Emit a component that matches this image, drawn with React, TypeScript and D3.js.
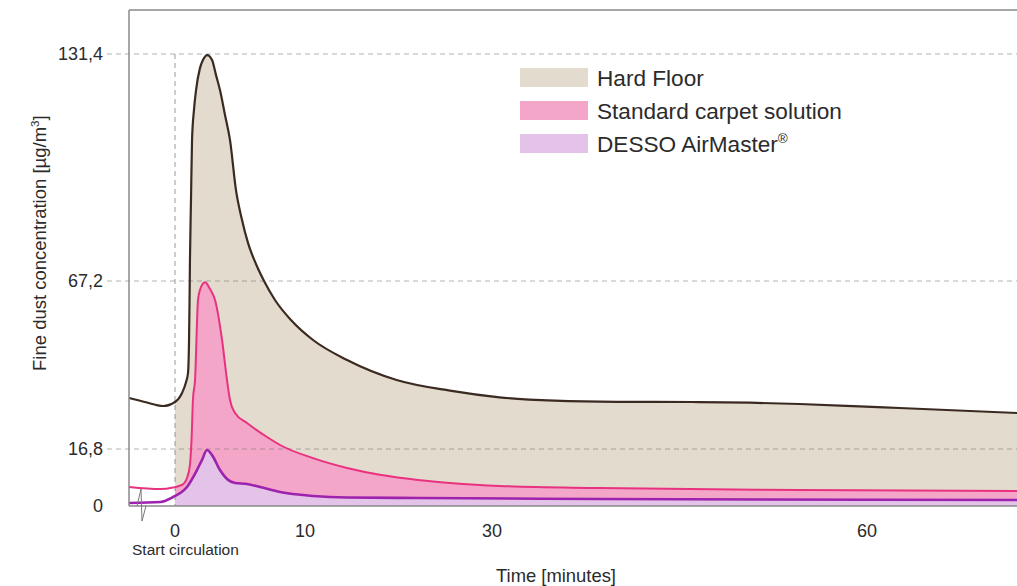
import React from 'react';
import * as d3 from 'd3';

// [minutes, µg/m³]
const hardFloor: [number, number][] = [
  [-3.5, 32.1], [-2.3, 30.9], [-0.9, 29.7], [0, 30.9], [0.54, 33.6], [0.85, 36.9],
  [1.0, 39.6], [1.08, 49.5], [1.12, 61.5], [1.15, 72.9], [1.23, 90.1], [1.31, 107.1],
  [1.46, 115.6], [1.62, 121.2], [1.92, 127.4], [2.15, 129.7], [2.48, 131.1], [2.85, 129.7],
  [3.15, 125.5], [3.46, 121.2], [3.85, 114.1], [4.23, 107.1], [4.69, 92.9], [5.12, 85.0],
  [5.62, 77.9], [6.23, 72.0], [6.85, 67.2], [7.69, 61.5], [8.92, 55.5], [10.86, 49.5],
  [14.5, 43.5], [19.8, 37.5], [25.5, 34.3], [30.6, 32.3], [35, 31.3], [40, 30.95],
  [46, 30.9], [50.6, 30.7], [54.6, 30.3], [59.4, 29.6], [62.6, 29.1], [72, 27.6],
];

const standardCarpet: [number, number][] = [
  [-3.5, 5.6], [-1.1, 5.0], [-0.15, 5.45], [0.54, 6.2], [0.92, 8.25], [1.15, 12.1],
  [1.27, 19.5], [1.38, 31.5], [1.54, 37.5], [1.77, 61.5], [1.92, 64.5], [2.31, 66.8],
  [2.69, 64.8], [3.08, 61.5], [3.62, 49.5], [4.0, 37.5], [4.23, 31.5], [4.62, 27.6],
  [5.54, 24.6], [7.08, 20.4], [8.08, 18.0], [10.86, 14.1], [14.5, 11.2], [18.0, 9.2],
  [22.3, 7.6], [25.5, 6.8], [30.6, 5.9], [38.6, 5.3], [54.6, 4.7], [72, 4.4],
];

const airMaster: [number, number][] = [
  [-3.5, 0.9], [-1.1, 1.2], [-0.15, 2.65], [0.92, 5.6], [1.69, 10.6], [2.08, 13.6],
  [2.46, 16.5], [2.85, 15.0], [3.46, 10.6], [4.08, 7.7], [4.62, 6.8], [5.54, 6.5],
  [6.54, 5.6], [8.08, 4.1], [10.86, 2.95], [14.5, 2.5], [22.3, 2.36], [38.6, 2.06], [72, 1.77],
];

const yTicks = [0, 16.8, 67.2, 131.4];
const xTicks = [0, 10, 30, 60];

const series = [
  { name: 'Hard Floor', data: hardFloor, fill: '#e3dbce', stroke: '#3b2a22', width: 2.2 },
  { name: 'Standard carpet solution', data: standardCarpet, fill: '#f4a6c8', stroke: '#e8327f', width: 2 },
  { name: 'DESSO AirMaster', data: airMaster, fill: '#e3c4e8', stroke: '#9d22ad', width: 2.6 },
];

const W = 1017;
const H = 586;
const FONT = '"Liberation Sans", Arial, sans-serif';

// the source axis is not evenly spaced, so both scales are piecewise
const x = d3.scaleLinear().domain([-3.5, 0, 10, 30, 60, 72]).range([129, 175, 305, 492, 867, 1017]);
const y = d3.scaleLinear().domain(yTicks).range([506, 449, 281, 54]);

const line = d3.line<[number, number]>()
  .x(d => x(d[0]))
  .y(d => y(d[1]))
  .curve(d3.curveMonotoneX);

const area = d3.area<[number, number]>()
  .x(d => x(d[0]))
  .y0(y(0))
  .y1(d => y(d[1]))
  .curve(d3.curveMonotoneX);

const fmt = (v: number) => (v === 0 ? '0' : d3.format('.1f')(v).replace('.', ','));

const App: React.FC = () => {
  const left = x(-3.5);
  const right = x(72);
  const bottom = y(0);
  const top = 10;

  return (
    <svg width={W} height={H} style={{ position: 'absolute', left: 0, top: 0 }} fontFamily={FONT}>
      <defs>
        <clipPath id="after-start">
          <rect x={x(0)} y={0} width={right - x(0)} height={bottom} />
        </clipPath>
      </defs>

      {/* areas start at the circulation start */}
      <g clipPath="url(#after-start)">
        {series.map(s => (
          <path key={s.name} d={area(s.data) || ''} fill={s.fill} />
        ))}
      </g>

      {/* dashed grid */}
      {yTicks.filter(t => t > 0).map(t => (
        <line key={t} x1={107} x2={right} y1={y(t)} y2={y(t)}
          stroke="#777" strokeOpacity={0.55} strokeWidth={1.2} strokeDasharray="5,4" />
      ))}
      <line x1={x(0)} x2={x(0)} y1={y(131.4)} y2={bottom}
        stroke="#777" strokeOpacity={0.6} strokeWidth={1.2} strokeDasharray="5,4" />

      {series.map(s => (
        <path key={s.name} d={line(s.data) || ''} fill="none" stroke={s.stroke} strokeWidth={s.width} />
      ))}

      {/* frame */}
      <line x1={left} x2={right} y1={top} y2={top} stroke="#8a8a8a" strokeWidth={1.5} />
      <line x1={left} x2={left} y1={top} y2={bottom} stroke="#8a8a8a" strokeWidth={1.5} />
      <line x1={left} x2={right} y1={bottom} y2={bottom} stroke="#8a8a8a" strokeWidth={1.5} />

      {/* axis break marker */}
      <path d={`M${left + 8},${bottom} L${left + 12},${bottom - 17} L${left + 13},${bottom + 15} L${left + 17},${bottom}`}
        fill="none" stroke="#777" strokeWidth={1} />

      {yTicks.map(t => (
        <text key={t} x={103} y={y(t)} dy="0.36em" textAnchor="end" fontSize={18} fill="#2b2b2b">
          {fmt(t)}
        </text>
      ))}
      {xTicks.map(t => (
        <text key={t} x={x(t)} y={537} textAnchor="middle" fontSize={18} fill="#2b2b2b">
          {t}
        </text>
      ))}
      <text x={132} y={555} fontSize={15.5} fill="#2b2b2b">Start circulation</text>
      <text x={556} y={582} textAnchor="middle" fontSize={18.4} fill="#2b2b2b">Time [minutes]</text>
      <text transform="translate(46,371) rotate(-90)" fontSize={18.5} fill="#2b2b2b">
        Fine dust concentration [µg/m<tspan fontSize={11.5} dy={-7}>3</tspan><tspan dy={7}>]</tspan>
      </text>

      {/* legend */}
      {series.map((s, i) => (
        <g key={s.name} transform={`translate(520,${68 + i * 33})`}>
          <rect width={68} height={19} fill={s.fill} />
          <text x={77} y={18} fontSize={22.6} fill="#2b2b2b">
            {s.name}
            {i === 2 && <tspan fontSize={13.5} dy={-9}>®</tspan>}
          </text>
        </g>
      ))}
    </svg>
  );
};

export default App;
